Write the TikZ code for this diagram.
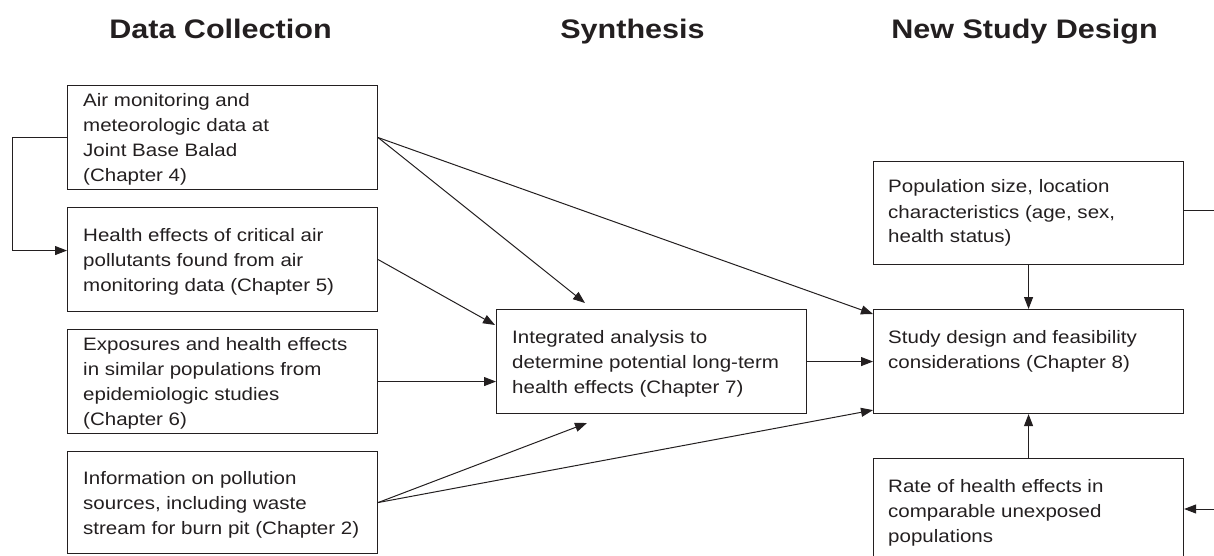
\documentclass[tikz,border=0pt]{standalone}
\usepackage{fontspec}
\setmainfont{Liberation Sans}[FakeStretch=1.14]
\usetikzlibrary{arrows.meta,calc}
\definecolor{ink}{HTML}{231F20}
\newcommand{\boxtext}[1]{\parbox[t]{330pt}{\raggedright #1}}
\begin{document}
\begin{tikzpicture}[x=1pt,y=-1pt,
  box/.style={draw=ink, line width=1.1pt, minimum width=310pt, minimum height=104pt, inner sep=0pt, anchor=north west},
  txt/.style={anchor=base west, inner sep=0pt, text=ink, font=\fontsize{18}{25}\selectfont},
  ttl/.style={anchor=base, inner sep=0pt, text=ink, font=\fontsize{26.8}{30}\selectfont\bfseries},
  arr/.style={draw=ink, line width=1pt, -{Triangle[length=12pt,width=9pt]}},
  ln/.style={draw=ink, line width=1pt}]
\useasboundingbox (0,0) rectangle (1214,556);
% titles
\node[ttl] (h1) at (220.5,39) {Data Collection};
\node[ttl] (h2) at (632.5,39) {Synthesis};
\node[ttl] (h3) at (1024.5,39) {New Study Design};
% boxes
\node[box] (b1) at (67,85) {};
\node[box] (b2) at (67,207) {};
\node[box] (b3) at (67,329) {};
\node[box, minimum height=102pt] (b4) at (67,451) {};
\node[box] (b5) at (496,309) {};
\node[box, minimum height=103pt] (b6) at (873,161) {};
\node[box] (b7) at (873,309) {};
\node[box] (b8) at (873,458) {};
% texts
\node[txt] (t1) at (83,107) {\boxtext{Air monitoring and\\meteorologic data at\\Joint Base Balad\\(Chapter 4)}};
\node[txt] (t2) at (83,241) {\boxtext{Health effects of critical air\\pollutants found from air\\monitoring data (Chapter 5)}};
\node[txt] (t3) at (83,350) {\boxtext{Exposures and health effects\\in similar populations from\\epidemiologic studies\\(Chapter 6)}};
\node[txt] (t4) at (83,484) {\boxtext{Information on pollution\\sources, including waste\\stream for burn pit (Chapter 2)}};
\node[txt] (t5) at (512,343) {\boxtext{Integrated analysis to\\determine potential long-term\\health effects (Chapter 7)}};
\node[txt] (t6) at (888,193) {\boxtext{Population size, location\\characteristics (age, sex,\\health status)}};
\node[txt] (t7) at (888,343) {\boxtext{Study design and feasibility\\considerations (Chapter 8)}};
\node[txt] (t8) at (888,492) {\boxtext{Rate of health effects in\\comparable unexposed\\populations}};
% free ends
\coordinate (e1) at (585,303);
\coordinate (e2) at (587,423);
\coordinate (r) at (1232,509);
% connectors
\draw[arr] (b1.west) -- ++(-55,0) |- ($(b2.west)+(0,-9)$);
\draw[arr] (b1.east) -- (e1);
\draw[arr] (b1.east) -- ($(b7.north west)+(0,5)$);
\draw[arr] (b2.east) -- ($(b5.north west)+(-1,16)$);
\draw[arr] (b3.east) -- (b5.west |- b3.east);
\draw[arr] (b4.east) -- (e2);
\draw[arr] (b4.east) -- ($(b7.south west)+(0,-4)$);
\draw[arr] (b5.east) -- (b7.west);
\draw[arr] (b6.south) -- (b7.north);
\draw[arr] (b8.north) -- (b7.south);
\draw[arr] ($(b6.east)+(0,-3)$) -- (r |- {$(b6.east)+(0,-3)$}) -- (r) -- (b8.east |- r);
\end{tikzpicture}
\end{document}
